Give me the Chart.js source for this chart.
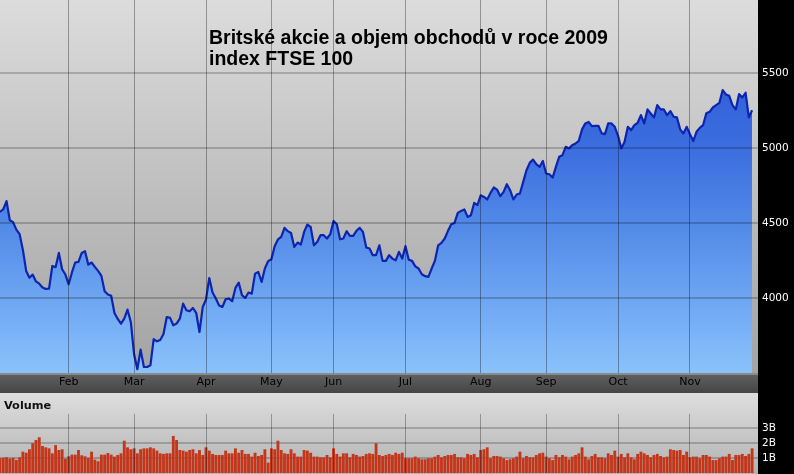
<!DOCTYPE html>
<html><head><meta charset="utf-8">
<script src="https://cdn.jsdelivr.net/npm/chart.js@4/dist/chart.umd.min.js"></script>
<style>
html,body{margin:0;padding:0;background:#000;}
#wrap{position:relative;width:794px;height:474px;overflow:hidden;background:#000;}
#price{position:absolute;left:0;top:0;}
#vol{position:absolute;left:0;top:393px;}
</style></head><body>
<div id="wrap"><canvas id="price" width="794" height="393"></canvas><canvas id="vol" width="794" height="81"></canvas></div>
<script>
const titleLines = ['Britské akcie a objem obchodů v roce 2009', 'index FTSE 100'];
const volumeLabel = 'Volume';
const monthLabels = ['Feb','Mar','Apr','May','Jun','Jul','Aug','Sep','Oct','Nov'];
const monthStartIndex = [21,41,63,83,102,124,147,167,189,211];
const priceTicks = [4000,4500,5000,5500];
const volumeTicks = [1,2,3];

// FTSE 100 daily close, trading days 2 Jan – 27 Nov 2009
const closePrices = [
4573,4591,4645,4518,4505,4455,4425,4320,4180,4135,
4155,4110,4095,4070,4060,4062,4213,4205,4300,4191,
4156,4091,4170,4236,4240,4300,4311,4222,4236,4207,
4180,4147,4045,4023,4015,3900,3860,3829,3862,3922,
3840,3625,3525,3656,3540,3540,3551,3725,3711,3720,
3760,3873,3867,3818,3829,3862,3962,3918,3911,3933,
3900,3773,3940,3990,4133,4036,3996,3950,3940,3991,
3996,3978,4067,4102,4018,4000,4036,4029,4162,4173,
4107,4196,4245,4258,4345,4390,4407,4467,4445,4433,
4340,4369,4356,4440,4489,4473,4351,4373,4418,4418,
4396,4425,4513,4491,4391,4396,4445,4413,4413,4447,
4467,4440,4336,4329,4285,4285,4351,4247,4247,4285,
4262,4251,4307,4262,4345,4255,4247,4210,4196,4158,
4145,4140,4196,4247,4351,4367,4396,4447,4491,4500,
4567,4580,4590,4540,4551,4633,4618,4684,4673,4656,
4700,4736,4722,4678,4707,4758,4718,4656,4689,4696,
4773,4851,4900,4922,4891,4873,4913,4829,4824,4802,
4873,4940,4951,5007,4996,5018,5029,5047,5123,5163,
5173,5145,5147,5147,5096,5091,5163,5163,5140,5080,
4996,5040,5140,5118,5151,5167,5218,5163,5256,5229,
5203,5285,5256,5256,5218,5245,5207,5203,5123,5096,
5140,5091,5045,5107,5133,5151,5230,5240,5269,5285,
5300,5385,5356,5347,5285,5256,5358,5336,5367,5203,
5251
];

// Daily volume, billions of shares
const volumesB = [
0.96,0.99,1.03,0.94,0.99,0.85,1.02,1.40,1.33,1.56,
1.96,2.18,2.36,1.78,1.69,1.62,1.29,1.84,1.51,1.56,
0.93,1.09,1.20,1.20,1.51,1.16,1.09,0.98,1.40,0.87,
0.76,1.20,1.20,1.31,1.20,1.07,1.18,1.29,2.13,1.69,
1.56,1.62,1.29,1.56,1.62,1.62,1.69,1.62,1.47,1.29,
1.25,1.29,1.29,2.45,2.18,1.51,1.47,1.40,1.51,1.56,
1.29,1.51,1.18,1.69,1.47,1.25,1.18,1.18,1.18,1.47,
1.29,1.29,1.62,1.33,1.51,1.25,1.25,1.07,1.33,1.11,
1.18,1.56,0.67,1.62,1.56,2.13,1.51,1.29,1.25,1.56,
1.29,1.07,1.07,1.51,1.47,1.33,1.07,1.07,1.02,1.02,
1.18,1.02,1.62,1.25,1.07,1.29,1.29,1.02,1.25,1.18,
1.07,1.11,1.25,1.29,1.25,1.96,1.18,1.11,1.18,1.25,
1.18,1.33,1.25,1.33,0.96,0.96,0.96,1.07,0.96,0.89,
0.89,0.96,0.96,1.07,1.18,1.02,1.11,1.18,1.18,1.25,
1.02,1.02,0.96,1.25,1.18,1.25,1.02,1.51,1.56,1.69,
0.96,1.11,1.11,1.07,0.96,0.84,0.89,0.96,1.07,1.40,
0.96,1.11,1.02,1.02,1.18,1.29,1.33,1.07,0.96,0.84,
1.18,1.02,1.18,1.07,0.89,1.07,1.18,1.29,1.69,1.07,
0.89,1.11,1.25,1.02,1.02,0.96,1.29,1.18,1.47,1.07,
1.25,1.02,1.29,1.02,0.89,1.25,1.40,1.29,1.18,1.02,
1.18,1.25,1.11,1.02,1.07,1.56,1.51,1.47,1.51,1.18,
1.40,1.02,1.07,1.07,0.96,1.18,1.18,1.07,0.84,0.84,
0.96,1.07,1.07,1.25,0.84,1.18,1.18,1.25,1.11,1.25,
1.62
];

Chart.defaults.font.family = "'DejaVu Sans', Verdana, sans-serif";

function fitAxis(size){
  return s => {
    if (s.isHorizontal()) s.height = size; else s.width = size;
    s.paddingTop = 0; s.paddingBottom = 0; s.paddingLeft = 0; s.paddingRight = 0;
  };
}
function setTicks(values){ return s => { s.ticks = values.map(v => ({value: v})); }; }

const priceBg = {
  id: 'priceBg',
  beforeDraw(chart){
    const {ctx, chartArea: ca} = chart;
    const xs = chart.scales.x;
    ctx.save();
    let g = ctx.createLinearGradient(0, ca.top, 0, ca.bottom);
    g.addColorStop(0, '#dcdcdc'); g.addColorStop(1, '#a3a3a3');
    ctx.fillStyle = g;
    ctx.fillRect(ca.left, ca.top, ca.right - ca.left, ca.bottom - ca.top);
    g = ctx.createLinearGradient(0, xs.top, 0, xs.bottom);
    g.addColorStop(0, '#626262'); g.addColorStop(1, '#454545');
    ctx.fillStyle = g;
    ctx.fillRect(ca.left, xs.top, ca.right - ca.left, xs.bottom - xs.top);
    ctx.fillStyle = '#8a8a8a';
    ctx.fillRect(ca.left, xs.top, ca.right - ca.left, 2);
    ctx.restore();
  },
  afterDraw(chart){
    const ctx = chart.ctx;
    ctx.save();
    ctx.font = "bold 19.5px 'Liberation Sans', Arial, sans-serif";
    ctx.fillStyle = '#000';
    ctx.textBaseline = 'alphabetic';
    ctx.textAlign = 'left';
    ctx.fillText(titleLines[0], 209, 43.5);
    ctx.fillText(titleLines[1], 209, 65);
    ctx.restore();
  }
};

new Chart(document.getElementById('price'), {
  type: 'line',
  data: {
    datasets: [{
      data: closePrices.map((v, i) => ({x: i, y: v})),
      borderColor: '#0c24b0',
      borderWidth: 2.2,
      pointRadius: 0,
      tension: 0,
      borderJoinStyle: 'round',
      fill: 'start',
      backgroundColor: (c) => {
        const ca = c.chart.chartArea;
        if (!ca) return '#4a80e4';
        const g = c.chart.ctx.createLinearGradient(0, ca.top, 0, ca.bottom);
        g.addColorStop(0, '#2250d2');
        g.addColorStop(0.4, '#3c6edf');
        g.addColorStop(0.6, '#5189e8');
        g.addColorStop(1, '#8ac2fc');
        return g;
      }
    }]
  },
  options: {
    responsive: false, animation: false, events: [],
    layout: {padding: 0},
    plugins: {legend: {display: false}, tooltip: {enabled: false}},
    scales: {
      x: {
        type: 'linear', min: 0, max: 231.8, offset: false,
        afterBuildTicks: setTicks(monthStartIndex),
        afterFit: fitAxis(20),
        grid: {color: 'rgba(0,0,0,0.33)', lineWidth: 1, drawTicks: false, z: 1, offset: false},
        border: {display: false},
        ticks: {autoSkip: false, maxRotation: 0, padding: 3, color: '#000', font: {size: 11},
                callback: (v, i) => monthLabels[i]}
      },
      y: {
        type: 'linear', position: 'right', min: 3500, max: 5985,
        afterBuildTicks: setTicks(priceTicks),
        afterFit: fitAxis(36),
        grid: {color: 'rgba(0,0,0,0.2)', lineWidth: 2, drawTicks: false, z: 1},
        border: {display: false},
        ticks: {padding: 4, color: '#fff', font: {size: 10.5}, callback: v => String(v)}
      }
    }
  },
  plugins: [priceBg]
});

const volBg = {
  id: 'volBg',
  beforeDraw(chart){
    const {ctx, chartArea: ca} = chart;
    ctx.save();
    const g = ctx.createLinearGradient(0, 0, 0, chart.height);
    g.addColorStop(0, '#dedede'); g.addColorStop(1, '#b2b2b2');
    ctx.fillStyle = g;
    ctx.fillRect(ca.left, 0, ca.right - ca.left, chart.height);
    ctx.restore();
  },
  afterDraw(chart){
    const ctx = chart.ctx;
    ctx.save();
    ctx.font = "bold 11.3px 'DejaVu Sans', Verdana, sans-serif";
    ctx.fillStyle = '#111';
    ctx.textBaseline = 'alphabetic';
    ctx.fillText(volumeLabel, 4, 16);
    ctx.restore();
  }
};

new Chart(document.getElementById('vol'), {
  type: 'bar',
  data: {
    datasets: [{
      data: volumesB.map((v, i) => ({x: i, y: v})),
      backgroundColor: '#c4361a',
      borderWidth: 0,
      barThickness: 2.2
    }]
  },
  options: {
    responsive: false, animation: false, events: [],
    layout: {padding: {top: 21, bottom: 1, left: 0, right: 0}},
    plugins: {legend: {display: false}, tooltip: {enabled: false}},
    scales: {
      x: {
        type: 'linear', min: 0, max: 231.8, offset: false,
        afterBuildTicks: setTicks(monthStartIndex),
        afterFit: fitAxis(0),
        grid: {color: 'rgba(0,0,0,0.3)', lineWidth: 1, drawTicks: false, z: 1, offset: false},
        border: {display: false},
        ticks: {display: false}
      },
      y: {
        type: 'linear', position: 'right', min: 0, max: 3.933,
        afterBuildTicks: setTicks(volumeTicks),
        afterFit: fitAxis(36),
        grid: {color: 'rgba(0,0,0,0.2)', lineWidth: 2, drawTicks: false},
        border: {display: false},
        ticks: {padding: 4, color: '#fff', font: {size: 10.5}, callback: v => v + 'B'}
      }
    }
  },
  plugins: [volBg]
});
</script>
</body></html>
